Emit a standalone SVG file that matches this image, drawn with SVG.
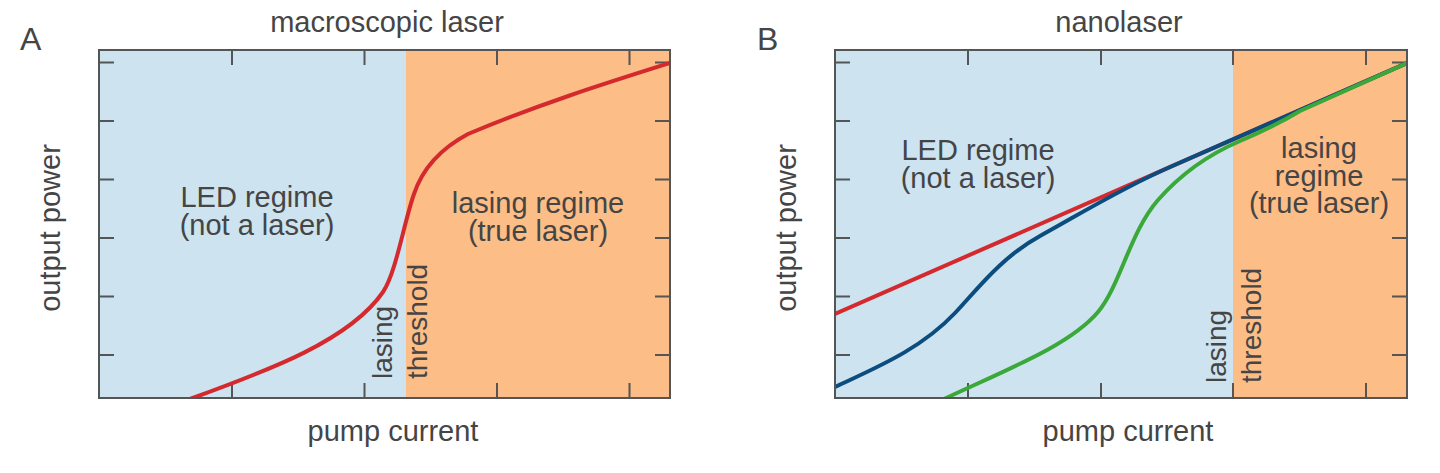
<svg xmlns="http://www.w3.org/2000/svg" width="1440" height="473" viewBox="0 0 1440 473">
<style>
.t{font-family:"Liberation Sans",Arial,sans-serif;fill:#454545;font-size:29px}
.v{font-size:28px}
.big{font-size:32px}
.m{text-anchor:middle}
.frame{fill:none;stroke:#555;stroke-width:2}
.tick{stroke:#555;stroke-width:2}
.cur{fill:none;stroke-width:4;stroke-linecap:butt;stroke-linejoin:round}
.red{stroke:#d42a2e}
.blue{stroke:#0b4d7e}
.green{stroke:#3ba83a}
.led{fill:#cde3f0}
.las{fill:#fcbd87}
</style>
<defs>
<clipPath id="clipA"><rect x="99" y="50" width="571" height="348"/></clipPath>
<clipPath id="clipB"><rect x="835" y="50" width="572" height="348"/></clipPath>
</defs>

<g id="panelA">
<rect class="led" x="99" y="50" width="307" height="348"/>
<rect class="las" x="406" y="50" width="264" height="348"/>
<g id="ticksA">
<path class="tick" d="M232,50v15M364.5,50v15M497,50v15M629.5,50v15M232,398v-15M364.5,398v-15M497,398v-15M629.5,398v-15M99,62.5h15M99,121h15M99,179.5h15M99,238h15M99,296.5h15M99,355h15M670,62.5h-15M670,121h-15M670,179.5h-15M670,238h-15M670,296.5h-15M670,355h-15"/>
</g>
<g id="curvesA" clip-path="url(#clipA)">
<path class="cur red" d="M190,399 C270,370 350,340 383,292 C396,273 404,222 414,194 C422,170 438,150 468,134 C540,104 600,85 670,63"/>
</g>
<rect class="frame" x="99" y="50" width="571" height="348"/>
<text class="t big" x="20" y="50">A</text>
<text class="t m" x="387" y="32">macroscopic laser</text>
<text class="t m" x="393" y="441">pump current</text>
<text class="t m" transform="translate(60,228) rotate(-90)">output power</text>
<text class="t m" x="257" y="207">LED regime<tspan x="257" dy="28">(not a laser)</tspan></text>
<text class="t m" x="538" y="213">lasing regime<tspan x="538" dy="28">(true laser)</tspan></text>
<text class="t v" transform="translate(392,379) rotate(-90)">lasing</text>
<text class="t v" transform="translate(427,379) rotate(-90)">threshold</text>
</g>

<g id="panelB">
<rect class="led" x="835" y="50" width="398" height="348"/>
<rect class="las" x="1233" y="50" width="174" height="348"/>
<g id="ticksB">
<path class="tick" d="M968,50v15M1101,50v15M1233,50v15M1366,50v15M968,398v-15M1101,398v-15M1233,398v-15M1366,398v-15M835,62.5h15M835,121h15M835,179.5h15M835,238h15M835,296.5h15M835,355h15M1407,62.5h-15M1407,121h-15M1407,179.5h-15M1407,238h-15M1407,296.5h-15M1407,355h-15"/>
</g>
<g id="curvesB" clip-path="url(#clipB)">
<path class="cur red" d="M835,314 L1407,63"/>
<path class="cur blue" d="M835,387 C875,368 920,350 955,313 C976,291 1000,258 1040,236 C1080,214 1120,189 1170,167 L1407,63"/>
<path class="cur green" d="M944,399 C1010,368 1070,345 1098,312 C1120,286 1130,232 1158,200 C1180,175 1205,156 1240,141 C1268,129 1285,120 1300,111 L1407,63"/>
</g>
<rect class="frame" x="835" y="50" width="572" height="348"/>
<text class="t big" x="757" y="50">B</text>
<text class="t m" x="1119" y="32">nanolaser</text>
<text class="t m" x="1128" y="441">pump current</text>
<text class="t m" transform="translate(796,228) rotate(-90)">output power</text>
<text class="t m" x="978" y="160">LED regime<tspan x="978" dy="28">(not a laser)</tspan></text>
<text class="t m" x="1319" y="158">lasing<tspan x="1319" dy="28">regime</tspan><tspan x="1319" dy="27">(true laser)</tspan></text>
<text class="t v" transform="translate(1226,383) rotate(-90)">lasing</text>
<text class="t v" transform="translate(1261,383) rotate(-90)">threshold</text>
</g>
</svg>
